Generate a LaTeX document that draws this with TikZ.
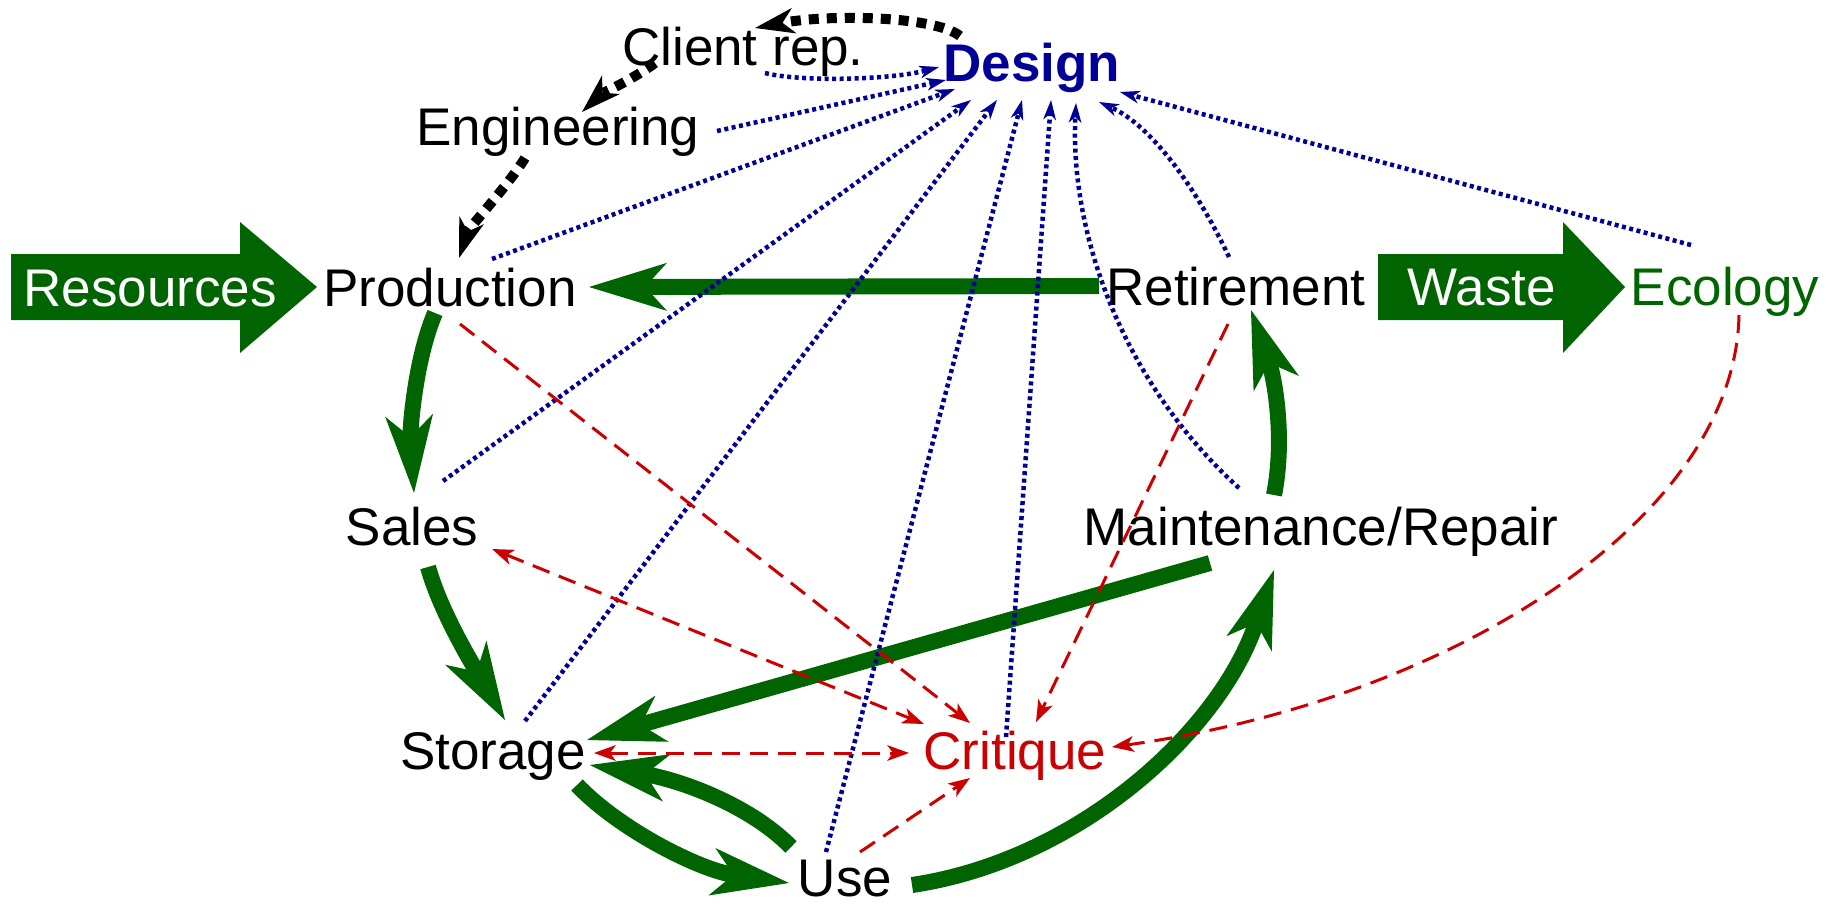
\documentclass[tikz,border=0pt]{standalone}
\usepackage{fontspec}
\setmainfont{Liberation Sans}
\usetikzlibrary{arrows.meta}
\definecolor{flowgreen}{RGB}{0,100,0}
\definecolor{designblue}{RGB}{0,0,153}
\definecolor{critred}{RGB}{204,0,0}
\begin{document}
\begin{tikzpicture}[x=1pt,y=-1pt,
		every node/.style={anchor=base,inner sep=0pt,font=\fontsize{53}{60}\selectfont},
		flow/.style={draw=flowgreen,line width=16pt,>={Stealth[length=78pt,width=48pt,inset=22pt,line width=0pt]},->},
		consult/.style={draw=black,line width=10pt,dash pattern=on 10pt off 8pt,>={Stealth[length=40pt,width=26pt,inset=12pt,line width=0pt]},->},
		inform/.style={draw=designblue,line width=4.5pt,dash pattern=on 4pt off 3.5pt,>={Stealth[length=20pt,width=13pt,inset=6pt,line width=0pt]},->},
		judge/.style={draw=critred,line width=3pt,dash pattern=on 18pt off 10pt,>={Stealth[length=22pt,width=16pt,inset=6pt,line width=0pt]},->}]
		\useasboundingbox (0,0) rectangle (1829,903);
		% big arrows in and out
		\fill [flowgreen] (11,254) -- (240,254) -- (240,222) -- (317,287) -- (240,353) -- (240,320) -- (11,320) -- cycle;
		\fill [flowgreen] (1378,254) -- (1563,254) -- (1563,222) -- (1625,287) -- (1563,353) -- (1563,320) -- (1378,320) -- cycle;
		\node [text=white] (res) at (150,306) {Resources};
		\node [text=white] (waste) at (1482,305) {Waste};
		% stages
		\node (client) at (743,65) {Client rep.};
		\node [text=designblue,font=\fontsize{53}{60}\selectfont\bfseries] (design) at (1032,81) {Design};
		\node (eng) at (558,145) {Engineering};
		\node (prod) at (450,306) {Production};
		\node (retire) at (1236,305) {Retirement};
		\node [text=flowgreen] (eco) at (1725,305) {Ecology};
		\node (sales) at (412,545) {Sales};
		\node (maint) at (1321,545) {Maintenance/Repair};
		\node (storage) at (493,769) {Storage};
		\node [text=critred] (critique) at (1015,769) {Critique};
		\node (use) at (845,896) {Use};
		% life cycle
		\draw [flow] ([shift={(-137,-19)}]retire.base) -- ([shift={(139,-19)}]prod.base);
		\draw [flow] ([shift={(-15,7)}]prod.base) .. controls +(-20,47) and +(-4,-63) .. ([shift={(2,-52)}]sales.base);
		\draw [flow] ([shift={(16,22)}]sales.base) .. controls +(12,43) and +(-35,-60) .. ([shift={(12,-49)}]storage.base);
		\draw [flow] ([shift={(-111,18)}]maint.base) -- ([shift={(94,-29)}]storage.base);
		\draw [flow] ([shift={(-54,-49)}]use.base) .. controls +(-41,-42) and +(90,15) .. ([shift={(97,-4)}]storage.base);
		\draw [flow] ([shift={(84,16)}]storage.base) .. controls +(43,45) and +(-89,-13) .. ([shift={(-56,-13)}]use.base);
		\draw [flow] ([shift={(67,-11)}]use.base) .. controls +(168,-25) and +(-54,160) .. ([shift={(-47,25)}]maint.base);
		\draw [flow] ([shift={(-47,-50)}]maint.base) .. controls +(11,-55) and +(24,70) .. ([shift={(15,5)}]retire.base);
		% design loop
		\draw [consult] ([shift={(-72,-45)}]design.base) .. controls +(-25,-20) and +(75,-14) .. ([shift={(12,-37)}]client.base);
		\draw [consult] ([shift={(-88,-2)}]client.base) .. controls +(-20,15) and +(18,-17) .. ([shift={(24,-33)}]eng.base);
		\draw [consult] ([shift={(-33,13)}]eng.base) .. controls +(-15,25) and +(10,-30) .. ([shift={(9,-48)}]prod.base);
		% feedback to design
		\draw [inform] ([shift={(22,8)}]client.base) .. controls +(35,9) and +(-49,13) .. ([shift={(-93,-14)}]design.base);
		\draw [inform] ([shift={(159,-14)}]eng.base) -- ([shift={(-86,-1)}]design.base);
		\draw [inform] ([shift={(42,-47)}]prod.base) -- ([shift={(-77,8)}]design.base);
		\draw [inform] ([shift={(31,-64)}]sales.base) -- ([shift={(-61,19)}]design.base);
		\draw [inform] ([shift={(32,-48)}]storage.base) -- ([shift={(-35,19)}]design.base);
		\draw [inform] ([shift={(-19,-44)}]use.base) -- ([shift={(-10,19)}]design.base);
		\draw [inform] ([shift={(-9,-32)}]critique.base) -- ([shift={(19,19)}]design.base);
		\draw [inform] ([shift={(-82,-57)}]maint.base) .. controls +(-119,-108) and +(-6,127) .. ([shift={(44,22)}]design.base);
		\draw [inform] ([shift={(-7,-48)}]retire.base) .. controls +(-34,-72) and +(51,23) .. ([shift={(67,21)}]design.base);
		\draw [inform] ([shift={(-34,-60)}]eco.base) -- ([shift={(88,11)}]design.base);
		% critique
		\draw [judge] ([shift={(10,18)}]prod.base) -- ([shift={(-45,-46)}]critique.base);
		\draw [judge,<->] ([shift={(80,4)}]sales.base) -- ([shift={(-91,-45)}]critique.base);
		\draw [judge] ([shift={(-8,19)}]retire.base) -- ([shift={(21,-47)}]critique.base);
		\draw [judge] ([shift={(14,10)}]eco.base) .. controls +(-4,205) and +(338,-47) .. ([shift={(97,-22)}]critique.base);
		\draw [judge,<->] ([shift={(101,-16)}]storage.base) -- ([shift={(-106,-16)}]critique.base);
		\draw [judge] ([shift={(15,-44)}]use.base) -- ([shift={(-45,9)}]critique.base);
\end{tikzpicture}
\end{document}
